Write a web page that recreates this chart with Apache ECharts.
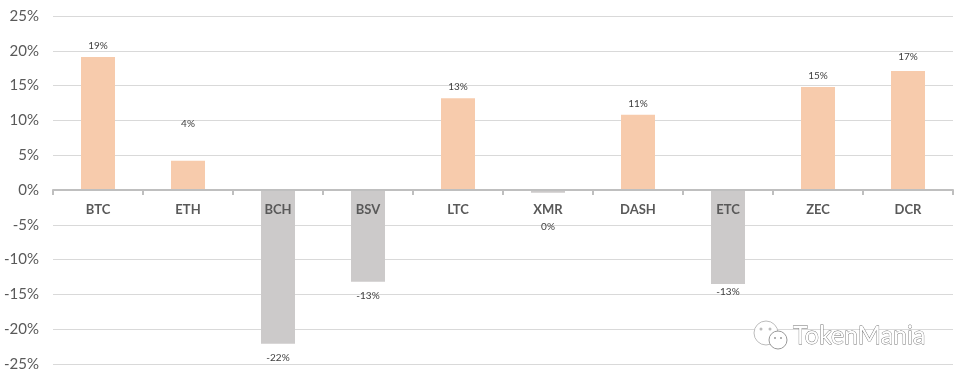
<!DOCTYPE html>
<html>
<head>
<meta charset="utf-8">
<style>
html,body{margin:0;padding:0;background:#fff;}
#main{width:956px;height:376px;}
</style>
<script src="https://cdn.jsdelivr.net/npm/echarts@6/dist/echarts.min.js"></script>
</head>
<body>
<div id="main"></div>
<script>
var categories = ['BTC','ETH','BCH','BSV','LTC','XMR','DASH','ETC','ZEC','DCR'];
var changes = [19.1,4.2,-22.1,-13.2,13.2,-0.4,10.8,-13.5,14.8,17.1];
var yTicks = [-25,-20,-15,-10,-5,0,5,10,15,20,25];

var chart = echarts.init(document.getElementById('main'));
var font = 'Lato, "Open Sans", sans-serif';

// 个别标签位置偏移
var labelShift = {ETH:-26, XMR:23, DCR:-3, BCH:3, BSV:3, ETC:-3};

var barData = changes.map(function(v,i){
	return {
		value:v,
		itemStyle:{color:v<0?'#cccaca':'#f7cbac'},
		label:{
			position:v<0?'bottom':'top',
			offset:[0,labelShift[categories[i]]||0]
		}
	};
});

var option = {
	animation:false,
	backgroundColor:'#fff',
	grid:{left:53,right:3,top:16,bottom:12,outerBoundsMode:'none'},
	xAxis:{
		type:'category',
		data:categories,
		z:5,
		axisLine:{onZero:true,lineStyle:{color:'#bfbfbf',width:2}},
		axisTick:{show:true,length:5,lineStyle:{color:'#bfbfbf',width:2}},
		// 标签放回零线下方
		axisLabel:{color:'#595959',fontFamily:font,fontWeight:'bold',fontSize:13,margin:-161}
	},
	yAxis:{
		type:'value',
		min:yTicks[0],
		max:yTicks[yTicks.length-1],
		interval:5,
		axisLine:{show:false},
		axisTick:{show:false},
		splitLine:{lineStyle:{color:'#d9d9d9',width:1}},
		axisLabel:{color:'#595959',fontFamily:font,fontSize:15,margin:14,formatter:'{value}%'}
	},
	series:[{
		type:'bar',
		barWidth:34,
		data:barData,
		label:{
			show:true,
			distance:6,
			color:'#404040',
			fontFamily:font,
			fontSize:10,
			formatter:function(p){return Math.round(p.value)+'%';}
		}
	}],
	// 水印
	graphic:[
		{type:'circle',shape:{cx:766,cy:333,r:12},style:{fill:'#fff',stroke:'#bdbdbd',lineWidth:1},z:10},
		{type:'circle',shape:{cx:778,cy:340,r:9},style:{fill:'#fff',stroke:'#9a9a9a',lineWidth:1},z:11},
		{type:'circle',shape:{cx:761,cy:329,r:1.5},style:{fill:'#bdbdbd'},z:11},
		{type:'circle',shape:{cx:770,cy:329,r:1.5},style:{fill:'#bdbdbd'},z:11},
		{type:'circle',shape:{cx:775,cy:338,r:1},style:{fill:'#9a9a9a'},z:12},
		{type:'circle',shape:{cx:781,cy:338,r:1},style:{fill:'#9a9a9a'},z:12},
		{type:'text',x:793,y:323,z:11,style:{text:'TokenMania',fill:'#fff',stroke:'#6f6f6f',lineWidth:0.8,font:'25px '+font}}
	]
};
chart.setOption(option);
</script>
</body>
</html>
